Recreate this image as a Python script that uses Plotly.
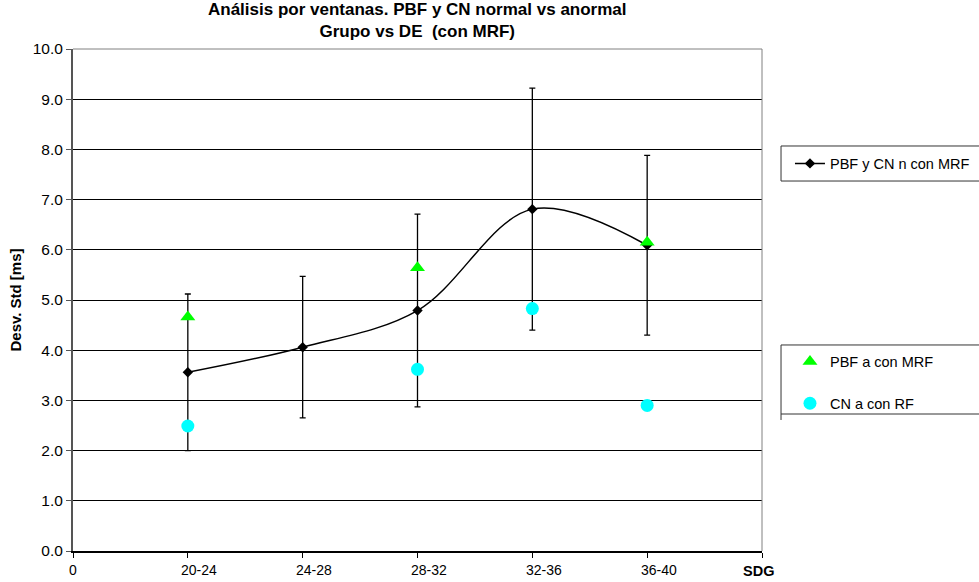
import plotly.graph_objects as go

# ---- data -------------------------------------------------------------
windows = ["20-24", "24-28", "28-32", "32-36", "36-40"]
window_pos = [1, 2, 3, 4, 5]

# PBF y CN normal con MRF: mean and standard deviation per window
pbf_cn_normal = [3.56, 4.06, 4.79, 6.81, 6.09]
pbf_cn_normal_sd = [1.56, 1.41, 1.92, 2.41, 1.79]

# abnormal cases
pbf_abnormal = [4.66, None, 5.64, None, 6.15]
cn_abnormal = [2.49, None, 3.62, 4.83, 2.90]

y_ticks = [0, 1, 2, 3, 4, 5, 6, 7, 8, 9, 10]
x_origin_label = "0"
x_axis_label = "SDG"
chart_title = "Análisis por ventanas. PBF y CN normal vs anormal<br>Grupo vs DE  (con MRF)"

FONT = "Liberation Sans, Arial, sans-serif"

fig = go.Figure()

fig.add_trace(go.Scatter(
    x=window_pos, y=pbf_cn_normal,
    name="PBF y CN n con MRF",
    mode="lines+markers",
    line=dict(color="black", width=1.5, shape="spline", smoothing=1),
    marker=dict(symbol="diamond", size=8, color="black"),
    error_y=dict(type="data", array=pbf_cn_normal_sd, visible=True,
                 color="black", thickness=1.3, width=3),
    legend="legend", showlegend=True,
))

fig.add_trace(go.Scatter(
    x=window_pos, y=pbf_abnormal,
    name="PBF a con MRF",
    mode="markers",
    marker=dict(symbol="triangle-up", size=13, color="#00ff00"),
    legend="legend2", legendgroup="pbf_a", showlegend=True,
))

fig.add_trace(go.Scatter(
    x=window_pos, y=cn_abnormal,
    name="CN a con RF",
    mode="markers",
    marker=dict(symbol="circle", size=13, color="#00ffff"),
    legend="legend2", legendgroup="cn_a", showlegend=True,
))

# chart title
annotations = [dict(x=0.5, y=1.0568, xref="paper", yref="paper",
                    text="<b>%s</b>" % chart_title, showarrow=False,
                    font=dict(family=FONT, size=17, color="black"),
                    xanchor="center", yanchor="middle", align="center")]

# category labels sit slightly to the right of their tick marks
label_shift = 0.1
annotations.append(dict(x=0, y=-0.038, xref="x", yref="paper", text=x_origin_label,
                        showarrow=False, font=dict(family=FONT, size=14, color="black"),
                        xanchor="center", yanchor="middle"))
for pos, lab in zip(window_pos, windows):
    annotations.append(dict(x=pos + label_shift, y=-0.038, xref="x", yref="paper",
                            text=lab, showarrow=False,
                            font=dict(family=FONT, size=14, color="black"),
                            xanchor="center", yanchor="middle"))
annotations.append(dict(x=len(windows) + 1 - 0.03, y=-0.04, xref="x", yref="paper",
                        text="<b>%s</b>" % x_axis_label, showarrow=False,
                        font=dict(family=FONT, size=14.5, color="black"),
                        xanchor="center", yanchor="middle"))

box_line = dict(color="#333333", width=1)
shapes = [
    # plot-area frame (top and right)
    dict(type="line", xref="paper", yref="paper", x0=0, x1=1, y0=1, y1=1,
         line=dict(color="#808080", width=1), layer="above"),
    dict(type="line", xref="paper", yref="paper", x0=1, x1=1, y0=0, y1=1,
         line=dict(color="#808080", width=1), layer="above"),
    # legend frames
    dict(type="rect", xref="paper", yref="paper", x0=1.0276, x1=1.35,
         y0=0.737, y1=0.8068, line=box_line),
    dict(type="line", xref="paper", yref="paper", x0=1.0276, x1=1.35,
         y0=0.4104, y1=0.4104, line=box_line),
    dict(type="line", xref="paper", yref="paper", x0=1.0276, x1=1.35,
         y0=0.2729, y1=0.2729, line=box_line),
    dict(type="line", xref="paper", yref="paper", x0=1.0276, x1=1.0276,
         y0=0.261, y1=0.4104, line=box_line),
]

fig.update_layout(
    width=979, height=582,
    margin=dict(l=73, r=217, t=49, b=31, autoexpand=False),
    paper_bgcolor="white", plot_bgcolor="white",
    font=dict(family=FONT, size=14, color="black"),
    showlegend=True,
    xaxis=dict(
        range=[0, len(windows) + 1],
        tickvals=list(range(len(windows) + 2)),
        showticklabels=False,
        ticks="outside", ticklen=5, tickcolor="black",
        showline=True, linecolor="black", linewidth=1.5,
        showgrid=False, zeroline=False,
    ),
    yaxis=dict(
        range=[0, 10],
        tickvals=y_ticks,
        tickformat=".1f",
        ticks="outside", ticklen=5, tickcolor="#555555",
        showline=True, linecolor="#555555", linewidth=2,
        showgrid=True, gridcolor="black", gridwidth=1,
        zeroline=False,
        tickfont=dict(family=FONT, size=15.5, color="black"),
        title=dict(text="<b>Desv. Std [ms]</b>",
                   font=dict(family=FONT, size=15, color="black"),
                   standoff=7),
    ),
    legend=dict(x=1.0406, y=0.772, xanchor="left", yanchor="middle",
                font=dict(family=FONT, size=14.5, color="black"),
                bgcolor="rgba(0,0,0,0)", borderwidth=0),
    legend2=dict(x=1.0406, y=0.3357, xanchor="left", yanchor="middle",
                 font=dict(family=FONT, size=14.5, color="black"),
                 bgcolor="rgba(0,0,0,0)", borderwidth=0, tracegroupgap=20),
    annotations=annotations,
    shapes=shapes,
)

fig.write_html("out.html")
